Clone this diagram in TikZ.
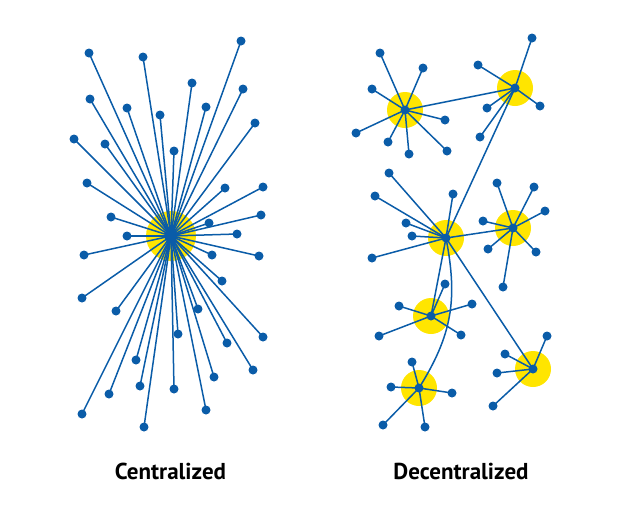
\documentclass[tikz,border=0pt]{standalone}
\usepackage{fontspec}
\setmainfont{PT Sans}
\definecolor{netblue}{HTML}{0A5CA8}
\definecolor{netyellow}{HTML}{FFE500}
\pgfdeclarelayer{halolayer}
\pgfdeclarelayer{wirelayer}
\pgfsetlayers{halolayer,wirelayer,main}
\begin{document}
\begin{tikzpicture}[x=1pt,y=-1pt,
  dot/.style={circle,fill=netblue,inner sep=0pt,minimum size=9pt},
  hubdot/.style={circle,fill=netblue,inner sep=0pt,minimum size=9pt},
  bighub/.style={circle,fill=netblue,inner sep=0pt,minimum size=13pt},
  haloring/.style={fill=netyellow},
  wire/.style={draw=netblue,line width=1.5pt},
  label/.style={font=\fontsize{23}{26}\selectfont\bfseries,anchor=base,inner sep=0pt}]
\useasboundingbox (0,0) rectangle (640,512);

% ---------------- Centralized ----------------
\node[bighub] (C0) at (171,236) {};
\begin{pgfonlayer}{halolayer}
  \fill[haloring] (C0.center) circle (25);
\end{pgfonlayer}
\foreach \x/\y [count=\i] in {89/53,143/57,241/41,192/83,243/89,90/99,127/108,160/115,206/107,255/123,
  74/139,105/144,174/151,87/183,225/188,263/187,111/217,209/223,261/215,
  127/236,237/234,84/255,212/255,259/256,222/281,82/298,116/311,198/309,178/334,263/337,
  227/343,136/360,253/370,214/377,109/394,140/386,174/389,82/414,206/410,144/427}{
  \node[dot] (cl\i) at (\x,\y) {};
  \begin{pgfonlayer}{wirelayer}
    \draw[wire] (C0.center) -- (cl\i.center);
  \end{pgfonlayer}
}

% ---------------- Decentralized ----------------
\foreach \n/\x/\y in {A/405/110,B/515/88,C/446/238,D/513/228,E/431/316,F/419/388,G/533/369}{
  \node[hubdot] (\n) at (\x,\y) {};
  \begin{pgfonlayer}{halolayer}
    \fill[haloring] (\n.center) circle (18);
  \end{pgfonlayer}
}
% leaves: hub/x/y
\foreach \h/\x/\y [count=\i] in {
  A/380/53,A/423/68,A/372/89,A/356/133,A/388/142,A/409/154,A/445/120,A/447/151,
  B/532/38,B/478/65,B/540/106,B/487/108,B/480/137,
  C/389/173,C/375/196,C/453/194,C/406/223,C/412/236,C/372/258,
  D/497/183,D/534/187,D/545/211,D/483/221,D/488/249,D/536/252,D/503/287,
  E/445/284,E/399/306,E/472/304,E/379/336,E/461/335,
  F/412/362,F/391/387,F/452/393,F/383/425,F/425/427,
  G/547/336,G/505/354,G/497/373,G/493/406}{
  \node[dot] (dl\i) at (\x,\y) {};
  \begin{pgfonlayer}{wirelayer}
    \draw[wire] (\h.center) -- (dl\i.center);
  \end{pgfonlayer}
}
\begin{pgfonlayer}{wirelayer}
  \draw[wire] (A.center) -- (B.center);
  \draw[wire] (B.center) -- (C.center);
  \draw[wire] (C.center) -- (D.center);
  \draw[wire] (C.center) -- (E.center);
  \draw[wire] (C.center) -- (G.center);
  \draw[wire] (C.center) .. controls (458,300) and (452,335) .. (F.center);
\end{pgfonlayer}

% ---------------- Labels ----------------
\node[label] (t1) at (170.5,479) {Centralized};
\node[label] (t2) at (461,479) {Decentralized};
\end{tikzpicture}
\end{document}
